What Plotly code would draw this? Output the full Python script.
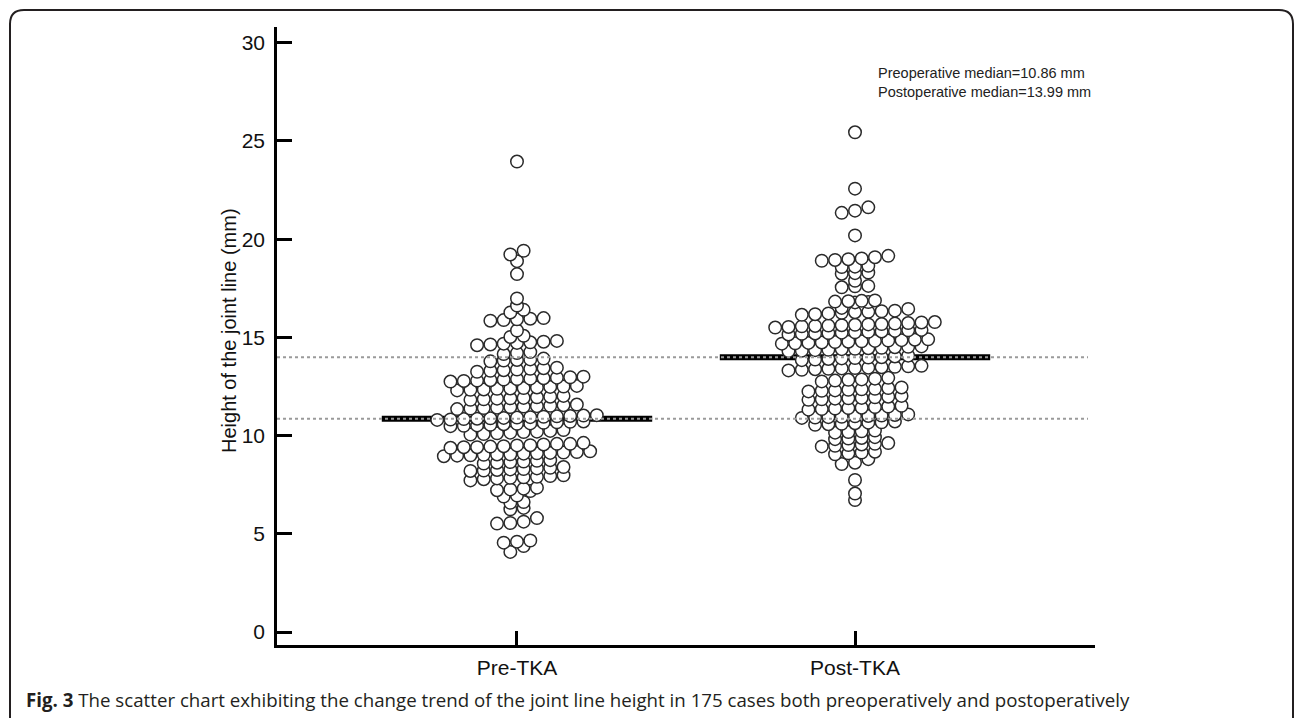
import numpy as np
import plotly.graph_objects as go

categories = ["Pre-TKA", "Post-TKA"]

pre_tka = [
    4.08, 4.38, 4.55, 4.60, 4.66,
    5.52, 5.55, 5.62, 5.80,
    6.25, 6.32, 6.58, 6.62, 6.90, 6.95,
    7.18, 7.22, 7.26, 7.30, 7.35,
    7.72, 7.78, 7.82, 7.85, 7.88, 7.90, 7.94, 7.98,
    8.20, 8.22, 8.25, 8.28, 8.30, 8.33, 8.36, 8.40,
    8.58, 8.62, 8.65, 8.68, 8.72, 8.75,
    8.95, 8.98, 9.00, 9.02, 9.04, 9.05, 9.08, 9.10, 9.12, 9.14, 9.16, 9.20,
    9.38, 9.41, 9.41, 9.44, 9.46, 9.50, 9.51, 9.55, 9.58, 9.58, 9.63,
    10.05, 10.08, 10.12, 10.15, 10.18, 10.20, 10.24, 10.28,
    10.48, 10.50, 10.52, 10.55, 10.58, 10.60, 10.62, 10.65, 10.68, 10.70, 10.72,
    10.80, 10.82, 10.84, 10.86, 10.88, 10.90, 10.92, 10.94, 10.96, 10.98, 11.00, 11.02, 11.04,
    11.35, 11.38, 11.40, 11.42, 11.45, 11.48, 11.50, 11.52, 11.55, 11.58,
    11.82, 11.85, 11.88, 11.90, 11.92, 11.95, 11.98, 12.02,
    12.30, 12.33, 12.35, 12.38, 12.40, 12.42, 12.45, 12.48, 12.50, 12.53,
    12.75, 12.78, 12.80, 12.82, 12.85, 12.88, 12.90, 12.92, 12.95, 12.97, 13.00,
    13.25, 13.30, 13.33, 13.36, 13.40, 13.43, 13.46,
    13.78, 13.82, 13.85, 13.88, 13.92,
    14.15, 14.20, 14.25,
    14.60, 14.64, 14.68, 14.72, 14.75, 14.78, 14.82,
    15.02, 15.08,
    15.35,
    15.85, 15.88, 15.92, 15.95, 15.98,
    16.27, 16.40,
    16.62, 16.98, 18.22, 18.88, 19.22, 19.41, 23.95,
]

post_tka = [
    6.72, 7.05, 7.74,
    8.55, 8.62, 8.80,
    9.05, 9.10, 9.14, 9.18,
    9.45, 9.48, 9.52, 9.55, 9.58, 9.62,
    9.82, 9.85, 9.88, 9.92,
    10.15, 10.18, 10.22, 10.26,
    10.55, 10.58, 10.60, 10.63, 10.66, 10.68, 10.72,
    10.90, 10.92, 10.94, 10.96, 10.98, 11.00, 11.02, 11.05, 11.08,
    11.32, 11.35, 11.38, 11.40, 11.42, 11.45, 11.48, 11.52,
    11.82, 11.85, 11.88, 11.90, 11.92, 11.95, 11.98, 12.02,
    12.25, 12.28, 12.30, 12.33, 12.36, 12.38, 12.42, 12.45,
    12.76, 12.80, 12.84, 12.86, 12.90, 12.94,
    13.32, 13.35, 13.38, 13.40, 13.42, 13.44, 13.46, 13.48, 13.50, 13.53, 13.55,
    13.84, 13.87, 13.90, 13.93, 13.95, 13.97, 13.99, 14.03, 14.07,
    14.30, 14.32, 14.35, 14.37, 14.40, 14.42, 14.45, 14.47, 14.50, 14.52, 14.54,
    14.68, 14.70, 14.72, 14.74, 14.76, 14.78, 14.80, 14.82, 14.84, 14.86, 14.88, 14.90,
    15.15, 15.18, 15.20, 15.22, 15.24, 15.26, 15.28, 15.30, 15.33, 15.36, 15.38,
    15.50, 15.53, 15.56, 15.58, 15.60, 15.62, 15.64, 15.66, 15.68, 15.70, 15.73, 15.76, 15.78,
    16.15, 16.18, 16.22, 16.25, 16.28, 16.30, 16.33, 16.36,
    16.45, 16.50,
    16.78, 16.80, 16.82, 16.84, 16.86, 16.88,
    17.55, 17.60, 17.62,
    17.88,
    18.24, 18.27, 18.30,
    18.58, 18.60, 18.64,
    18.90, 18.94, 18.98, 19.02, 19.08, 19.15,
    20.19,
    21.34, 21.45, 21.62,
    22.57, 25.44,
]

y_ticks = [0, 5, 10, 15, 20, 25, 30]
caption_bold = "Fig. 3"
caption_text = ("The scatter chart exhibiting the change trend of the joint line height "
                "in 175 cases both preoperatively and postoperatively")
y_title = "Height of the joint line (mm)"

# ---- layout geometry (pixels) ----
W, H = 1296, 718
PL, PR, PT, PB = 277, 1095, 27, 645
XR = [-0.71, 1.71]
YR = [-0.66, 30.8]
px_per_x = (PR - PL) / (XR[1] - XR[0])


def px2paper_x(px):
    return (px - PL) / (PR - PL)


def px2paper_y(py):
    return (PB - py) / (PB - PT)


def row_swarm(vals, center, thr=0.3, step_px=13.3):
    vals = np.asarray(vals, dtype=float)
    order = np.argsort(vals, kind="stable")
    rows, cur, start = [], [], None
    for i in order:
        if start is None or vals[i] - start > thr + 1e-9:
            if cur:
                rows.append(cur)
            cur, start = [i], vals[i]
        else:
            cur.append(i)
    if cur:
        rows.append(cur)
    xs = np.zeros(len(vals))
    step = step_px / px_per_x
    for r in rows:
        n = len(r)
        for k, i in enumerate(r):
            xs[i] = center + (k - (n - 1) / 2) * step
    return xs


fig = go.Figure()
marker = dict(symbol="circle", size=12.5, color="white",
              line=dict(color="#2a2a2a", width=1.5))

for ci, vals in enumerate([pre_tka, post_tka]):
    xs = row_swarm(vals, ci)
    fig.add_trace(go.Scatter(x=xs, y=vals, mode="markers", marker=marker,
                             showlegend=False, hoverinfo="y"))

med_pre = float(np.median(pre_tka))
med_post = float(np.median(post_tka))

shapes = []
# median bars (under markers)
for ci, m in enumerate([med_pre, med_post]):
    shapes.append(dict(type="line", xref="x", yref="y", x0=ci - 0.4, x1=ci + 0.4,
                       y0=m, y1=m, line=dict(color="black", width=6), layer="below"))
# dotted reference lines (above markers)
for m in [med_pre, med_post]:
    shapes.append(dict(type="line", xref="paper", yref="y", x0=0, x1=px2paper_x(1088),
                       y0=m, y1=m, line=dict(color="#9a9a9a", width=2, dash="dot"),
                       layer="above"))

# rounded outer border
bx0, bx1 = px2paper_x(10), px2paper_x(1293)
by0, by1 = px2paper_y(740), px2paper_y(10)
rx, ry = 14 / (PR - PL), 14 / (PB - PT)
path = (f"M {bx0},{by0} L {bx0},{by1 - ry} Q {bx0},{by1} {bx0 + rx},{by1} "
        f"L {bx1 - rx},{by1} Q {bx1},{by1} {bx1},{by1 - ry} L {bx1},{by0}")
shapes.append(dict(type="path", xref="paper", yref="paper", path=path,
                   line=dict(color="#231f20", width=2), layer="above"))

annotations = [
    dict(text="Preoperative median=%.2f mm<br>Postoperative median=%.2f mm" % (med_pre, med_post),
         xref="paper", yref="paper", x=px2paper_x(876), y=px2paper_y(82),
         xanchor="left", yanchor="middle", align="left", showarrow=False,
         font=dict(family="Arial, Liberation Sans, sans-serif", size=14.5, color="#222222")),
    dict(text=y_title, textangle=-90, xref="paper", yref="paper",
         x=px2paper_x(229), y=px2paper_y(331), xanchor="center", yanchor="middle",
         showarrow=False,
         font=dict(family="Arial, Liberation Sans, sans-serif", size=20, color="#111111")),
    dict(text="<b>%s</b> %s" % (caption_bold, caption_text), xref="paper", yref="paper",
         x=px2paper_x(24), y=px2paper_y(700), xanchor="left", yanchor="middle",
         showarrow=False,
         font=dict(family="Open Sans, sans-serif", size=18.7, color="#231f20")),
]

axis_font = dict(family="Arial, Liberation Sans, sans-serif", size=21, color="#111111")

fig.update_layout(
    width=W, height=H,
    margin=dict(l=PL, r=W - PR, t=PT, b=H - PB, pad=0),
    paper_bgcolor="white", plot_bgcolor="white",
    shapes=shapes, annotations=annotations,
    xaxis=dict(range=XR, tickvals=[0, 1], ticktext=categories, ticks="inside",
               ticklen=14, tickwidth=3, tickcolor="black", showline=True,
               linewidth=2.5, linecolor="black", showgrid=False, zeroline=False,
               tickfont=axis_font, ticklabelstandoff=2, fixedrange=True),
    yaxis=dict(range=YR, tickvals=y_ticks, ticks="inside", ticklen=15,
               tickwidth=3, tickcolor="black", showline=True, linewidth=2.5,
               linecolor="black", showgrid=False, zeroline=False,
               tickfont=axis_font, ticklabelstandoff=5, fixedrange=True),
)

fig.write_html("out.html", config={"displayModeBar": False},
               post_script="document.body.style.margin='0';document.body.style.overflow='hidden';")
